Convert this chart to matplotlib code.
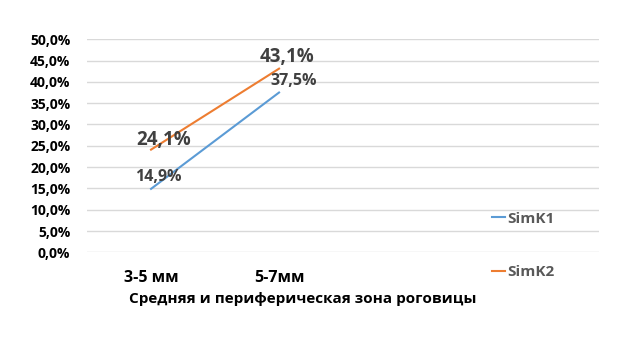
import matplotlib.pyplot as plt

plt.rcParams['font.family'] = ['Open Sans', 'DejaVu Sans']

# categories (two empty slots at the right, as in the source chart)
categories = ['3-5 мм', '5-7мм', '', '']
simk1 = [14.9, 37.5]
simk2 = [24.1, 43.1]
yticks = [0, 5, 10, 15, 20, 25, 30, 35, 40, 45, 50]

blue = '#5b9bd5'
orange = '#ed7d31'
label_col = '#404040'

fig = plt.figure(figsize=(6.4, 3.6), dpi=100)
ax = fig.add_axes([0.136, 0.299, 0.8, 0.592])

x = list(range(len(categories)))
ax.plot(x[:len(simk1)], simk1, color=blue, lw=1.5, label='SimK1')
ax.plot(x[:len(simk2)], simk2, color=orange, lw=1.5, label='SimK2')

# data labels, pixel offsets picked by eye
offs1 = [(7, 12), (15, 12)]
offs2 = [(13, 10), (8, 12)]
for xi, v, o in zip(x, simk1, offs1):
    ax.annotate(f'{v:.1f}%'.replace('.', ','), (xi, v), xytext=o,
                textcoords='offset pixels', ha='center', va='center',
                fontsize=11.5, fontweight='bold', color=label_col)
for xi, v, o in zip(x, simk2, offs2):
    ax.annotate(f'{v:.1f}%'.replace('.', ','), (xi, v), xytext=o,
                textcoords='offset pixels', ha='center', va='center',
                fontsize=13.5, fontweight='bold', color=label_col)

ax.set_xlim(-0.5, len(categories) - 0.5)
ax.set_ylim(0, 50)
ax.set_yticks(yticks)
ax.set_yticklabels([f'{t:.1f}%'.replace('.', ',') for t in yticks],
                   fontsize=10, fontweight='bold')
ax.set_xticks(x)
ax.set_xticklabels(categories, fontsize=11.5, fontweight='bold')
ax.tick_params(length=0)
ax.tick_params(axis='x', pad=13)
ax.tick_params(axis='y', pad=12)
ax.grid(axis='y', color='#d9d9d9', lw=1)
ax.set_axisbelow(True)
for s in ax.spines.values():
    s.set_visible(False)

fig.text(303 / 640, 1 - 299 / 360, 'Средняя и периферическая зона роговицы',
         fontsize=11, fontweight='bold', ha='center', va='center')

leg = ax.legend(loc='upper left', bbox_to_anchor=(0.765, 0.255), frameon=False,
                handlelength=0.8, handletextpad=0.2, labelspacing=2.6,
                prop={'size': 11, 'weight': 'bold'})
for t in leg.get_texts():
    t.set_color('#595959')

fig.savefig('out.png', dpi=100)
